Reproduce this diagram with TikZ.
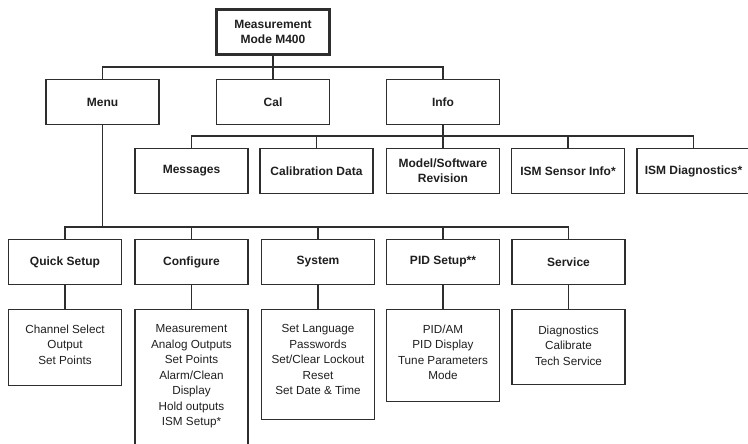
\documentclass[tikz,border=0pt]{standalone}
\usepackage{fontspec}
\setmainfont{Liberation Sans}
\begin{document}
\begin{tikzpicture}[x=1pt,y=-1pt,
  ln/.style={draw=black!82, line width=1.2pt},
  hdr/.style={draw=black!82, line width=1.2pt, rectangle, minimum width=113pt, minimum height=45pt, inner sep=0pt, align=center, text=black!88, font=\bfseries\fontsize{12}{15}\selectfont},
  topbox/.style={hdr, line width=3pt, minimum width=113pt, minimum height=45pt},
  dbox/.style={draw=black!82, line width=1.2pt, rectangle, minimum width=113pt, anchor=north, inner sep=0pt},
  dtext/.style={anchor=north, inner sep=0pt, align=center, text=black!88, font=\fontsize{11.7}{15.5}\selectfont}]
\useasboundingbox (0,0) rectangle (748,444);
\clip (0,0) rectangle (748,444);

% level 0
\node[topbox] (top) at (273,32) {Measurement\\Mode M400};
% level 1
\node[hdr] (menu) at (102.5,102) {Menu};
\node[hdr] (cal) at (273,102) {Cal};
\node[hdr] (info) at (443,102) {Info};
% level 2 (info)
\node[hdr] (msg) at (191.5,171) {Messages};
\node[hdr] (caldata) at (316.5,171) {Calibration Data};
\node[hdr] (model) at (443,171) {Model/Software\\Revision};
\node[hdr] (sensor) at (568,171) {ISM Sensor Info*};
\node[hdr] (diag) at (693.5,171) {ISM Diagnostics*};
% level 3 (menu)
\node[hdr] (quick) at (65,262) {Quick Setup};
\node[hdr] (conf) at (191.5,262) {Configure};
\node[hdr] (sys) at (318,262) {System};
\node[hdr] (pid) at (443,262) {PID Setup**};
\node[hdr] (serv) at (568.5,262) {Service};
% detail boxes
\node[dbox, minimum height=76pt] (quickd) at (65,308.5) {};
\node[dbox, minimum height=160pt] (confd) at (191.5,308.5) {};
\node[dbox, minimum height=110pt] (sysd) at (318,308.5) {};
\node[dbox, minimum height=92pt] (pidd) at (443,308.5) {};
\node[dbox, minimum height=75pt] (servd) at (568.5,308.5) {};
\node[dtext] (quickt) at (65,324.5) {Channel Select\\Output\\Set Points};
\node[dtext] (conft) at (191.5,324.5) {Measurement\\Analog Outputs\\Set Points\\Alarm/Clean\\Display\\Hold outputs\\ISM Setup*};
\node[dtext] (syst) at (318,324.5) {Set Language\\Passwords\\Set/Clear Lockout\\Reset\\Set Date \& Time};
\node[dtext] (pidt) at (443,324.5) {PID/AM\\PID Display\\Tune Parameters\\Mode};
\node[dtext] (servt) at (568.5,325.5) {Diagnostics\\Calibrate\\Tech Service};

% buses
\coordinate (b1) at (273,67);
\coordinate (b2) at (443,136);
\coordinate (b3) at (102.5,227);

\draw[ln] (top.south) -- (cal.north);
\draw[ln] (menu.north) |- (b1) -| (info.north);

\draw[ln] (info.south) -- (model.north);
\draw[ln] (msg.north) |- (b2) -| (diag.north);
\draw[ln] (caldata.north) -- (caldata.north |- b2);
\draw[ln] (sensor.north) -- (sensor.north |- b2);

\draw[ln] (menu.south) -- (b3);
\draw[ln] (quick.north) |- (b3) -| (serv.north);
\draw[ln] (conf.north) -- (conf.north |- b3);
\draw[ln] (sys.north) -- (sys.north |- b3);
\draw[ln] (pid.north) -- (pid.north |- b3);

\draw[ln] (quick.south) -- (quickd.north);
\draw[ln] (conf.south) -- (confd.north);
\draw[ln] (sys.south) -- (sysd.north);
\draw[ln] (pid.south) -- (pidd.north);
\draw[ln] (serv.south) -- (servd.north);
\end{tikzpicture}
\end{document}
